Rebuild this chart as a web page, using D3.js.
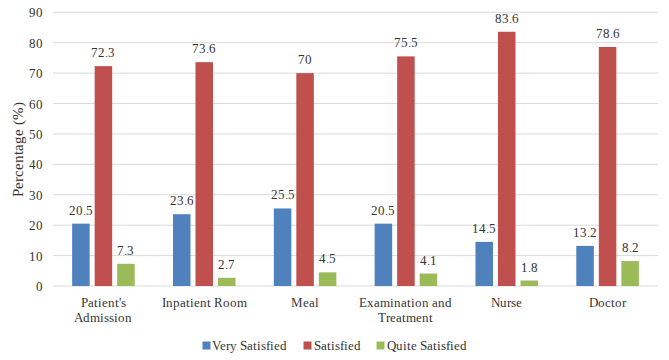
<!DOCTYPE html>
<html><head><meta charset="utf-8">
<script src="https://cdn.jsdelivr.net/npm/d3@7"></script>
<style>
@font-face{font-family:"ChartSerif";src:local("Liberation Serif"),local("LiberationSerif"),local("Liberation Serif Regular"),local("LiberationSerif-Regular");}
</style>
</head><body style="margin:0;background:#fff">
<svg id="c" width="669" height="360" font-family="ChartSerif, 'Liberation Serif', serif" style="display:block"></svg>
<script>
const categories = [["Patient's","Admission"],["Inpatient Room"],["Meal"],["Examination and","Treatment"],["Nurse"],["Doctor"]];
const seriesNames = ["Very Satisfied","Satisfied","Quite Satisfied"];
const verySatisfied = [20.5, 23.6, 25.5, 20.5, 14.5, 13.2];
const satisfied = [72.3, 73.6, 70, 75.5, 83.6, 78.6];
const quiteSatisfied = [7.3, 2.7, 4.5, 4.1, 1.8, 8.2];
const yTicks = [0,10,20,30,40,50,60,70,80,90];
const colors = ["#4F81BD","#C0504D","#9BBB59"];
const seriesValues = [verySatisfied, satisfied, quiteSatisfied];

(function(){
const FONT = "ChartSerif, 'Liberation Serif', 'Times New Roman', serif";
const BASE = 18, SZ = 13, K = SZ/BASE;
const svg = d3.select("#c");
const mLeft = 53, mRight = 658, mTop = 12.3, mBottom = 286;
const textColor = "#333";
const catIdx = categories.map((d,i)=>i);
const x0 = d3.scaleBand().domain(catIdx).range([mLeft,mRight]).padding(0);
const x1 = d3.scaleBand().domain([0,1,2]).range([0,x0.bandwidth()]).paddingInner(0.222).paddingOuter(0.85);
const y = d3.scaleLinear().domain([0,90]).range([mBottom,mTop]);

function smallText(parent, x, yy, anchor){
  return parent.append("text")
    .attr("transform",`translate(${x},${yy}) scale(${K})`)
    .attr("font-family",FONT).attr("font-size",BASE)
    .style("font-family",FONT).style("font-size",BASE+"px")
    .attr("text-anchor",anchor).attr("fill",textColor);
}

svg.append("g").selectAll("line").data(yTicks).join("line")
  .attr("x1",mLeft).attr("x2",mRight)
  .attr("y1",d=>y(d)).attr("y2",d=>y(d))
  .attr("stroke","#D9D9D9").attr("stroke-width",1);

const yAxis = d3.axisLeft(y).tickValues(yTicks).tickSize(0).tickPadding(10);
const ya = svg.append("g").attr("transform",`translate(${mLeft},0)`).call(yAxis);
ya.select(".domain").remove();
ya.attr("font-family",FONT).attr("font-size",null);
ya.selectAll(".tick text").each(function(){
  const t = d3.select(this);
  const xx = +t.attr("x");
  t.attr("x",null).attr("dy",null)
   .attr("transform",`translate(${xx},4.5) scale(${K})`)
   .attr("font-family",FONT).attr("font-size",BASE)
   .style("font-family",FONT).style("font-size",BASE+"px").attr("fill",textColor);
});

svg.append("text").attr("transform",`translate(23,${(mTop+mBottom)/2}) rotate(-90) scale(${15/BASE})`)
  .attr("font-family",FONT).attr("font-size",BASE)
  .style("font-family",FONT).style("font-size",BASE+"px")
  .attr("text-anchor","middle").attr("fill",textColor).text("Percentage (%)");

const data = [];
catIdx.forEach(i=>seriesValues.forEach((vals,s)=>data.push({i,s,v:vals[i]})));
svg.append("g").selectAll("rect").data(data).join("rect")
  .attr("x",d=>x0(d.i)+x1(d.s)).attr("width",x1.bandwidth())
  .attr("y",d=>y(d.v)).attr("height",d=>y(0)-y(d.v))
  .attr("fill",d=>colors[d.s]);

const lblG = svg.append("g");
data.forEach(d=>{
  smallText(lblG, x0(d.i)+x1(d.s)+x1.bandwidth()/2, y(d.v)-9, "middle").text(d.v);
});

const catG = svg.append("g");
catIdx.forEach(i=>{
  const t = smallText(catG, x0(i)+x0.bandwidth()/2, 307, "middle");
  categories[i].forEach((line,k)=>{
    t.append("tspan").attr("x",0).attr("dy",k===0?0:15/K).text(line);
  });
});

const lg = svg.append("g");
const items = seriesNames.map((n,s)=>{
  const g = lg.append("g");
  g.append("rect").attr("width",8).attr("height",8).attr("y",-4).attr("fill",colors[s]);
  const t = smallText(g, 10, 4.5, "start").text(n);
  return {g, w: 10 + t.node().getComputedTextLength()*K};
});
const gap = 16;
const total = d3.sum(items,d=>d.w) + gap*(items.length-1);
let cx = 334.5 - total/2;
items.forEach(it=>{ it.g.attr("transform",`translate(${cx},345.5)`); cx += it.w + gap; });
})();
</script>
</body></html>
